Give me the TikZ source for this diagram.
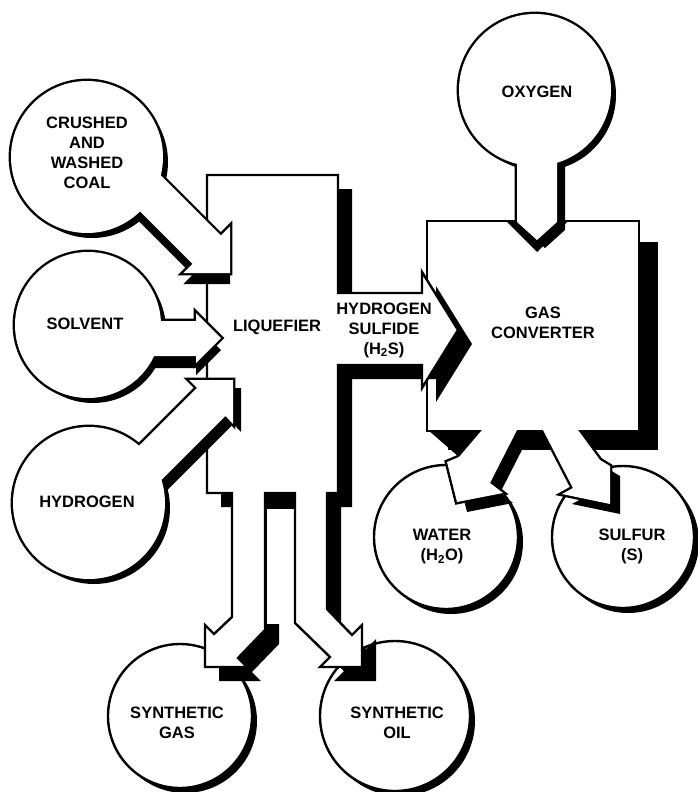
\documentclass[tikz,border=0pt]{standalone}
\usepackage{fontspec}
\setmainfont{Liberation Sans}
\newcommand\pCoal{(110,124.7) -- (220.8,235.5) -- (230,226.3) -- (230,273) -- (183.3,273) -- (192.5,263.8) -- (80,151.3) -- cycle}
\newcommand\pSolv{(100,321) -- (196,321) -- (196,313) -- (221,338) -- (196,363) -- (196,356) -- (100,356) -- cycle}
\newcommand\pHyd{(100,484.7) -- (197,387.8) -- (189.2,380) -- (233,380) -- (233,423.8) -- (225.3,416) -- (120,521.3) -- cycle}
\newcommand\pLiq{(207,175) -- (338,175) -- (338,293) -- (422,293) -- (422,272) -- (458,330) -- (422,388) -- (422,365) -- (338,365) -- (338,493) -- (327,493) -- (327,609) -- (352,635) -- (362,625) -- (362,667) -- (320,667) -- (330,657) -- (295,623) -- (295,493) -- (265,493) -- (265,630) -- (238,658) -- (247,667) -- (205,667) -- (205,625) -- (214,634) -- (232,617) -- (232,493) -- (207,493) -- cycle}
\newcommand\pWater{(482,412) -- (482,430) -- (459,457) -- (447,462) -- (457,502) -- (503,493) -- (490,483) -- (517,430) -- (517,412) -- cycle}
\newcommand\pSulf{(543,412) -- (543,430) -- (573,488) -- (562,494) -- (610,504) -- (610,466) -- (600,460) -- (578,430) -- (578,412) -- cycle}
\newcommand\pStem{(517,125) -- (517,222) -- (537,240) -- (557,222) -- (557,125) -- cycle}
\begin{document}
\begin{tikzpicture}[x=1pt,y=-1pt,
  lbl/.style={font=\bfseries\fontsize{16.5}{20}\selectfont, align=center, inner sep=0pt},
  edge/.style={line width=2.4pt, line join=miter},
  dbl/.style={line width=4.8pt, line join=miter},
  shade/.style={fill=black},
  pane/.style={fill=white}]
\useasboundingbox (0,0) rectangle (698,792);
\fill[white] (0,0) rectangle (698,792);

% output circles
\foreach \cx/\cy/\r in {180/716/72pt, 395/716/75pt, 446/537/72pt, 623/537/71pt} {
  \fill[shade] (\cx+5,\cy+5) circle[radius=\r];
  \filldraw[edge, pane] (\cx,\cy) circle[radius=\r];
}

% gas converter with its two outlets
\fill[shade] (448,242) rectangle (658,450);
\fill[shade] (428,430) -- (482,430) -- (459,457) -- cycle;
\fill[shade, shift={(10,10)}] \pWater;
\fill[shade, shift={(10,10)}] \pSulf;
\draw[dbl] (428,222) rectangle (638,430);
\draw[dbl] \pWater;
\draw[dbl] \pSulf;
\fill[pane] (428,222) rectangle (638,430);
\fill[pane] \pWater;
\fill[pane] \pSulf;

% oxygen
\fill[shade] (540,95) circle[radius=76pt];
\fill[shade, shift={(8,8)}] \pStem;
\fill[shade] (505,220) -- (537,252) -- (569,220) -- cycle;
\draw[dbl] (535,90) circle[radius=76pt];
\draw[dbl] \pStem;
\fill[pane] (535,90) circle[radius=76pt];
\fill[pane] \pStem;

% liquefier with outlets and H2S arrow
\fill[shade, shift={(14,14)}] \pLiq;
\fill[pane] (266.5,508) rectangle (293.5,624);
\fill[shade] (265,493) rectangle (295,509);
\filldraw[edge, pane] \pLiq;

% crushed coal
\fill[shade] (92,162) circle[radius=76pt];
\fill[shade, shift={(0,11)}] \pCoal;
\draw[dbl] (87,157) circle[radius=76pt];
\draw[dbl] \pCoal;
\fill[pane] (87,157) circle[radius=76pt];
\fill[pane] \pCoal;

% solvent
\fill[shade] (93,330) circle[radius=73pt];
\fill[shade, shift={(0,12)}] \pSolv;
\draw[dbl] (88,325) circle[radius=73pt];
\draw[dbl] \pSolv;
\fill[pane] (88,325) circle[radius=73pt];
\fill[pane] \pSolv;

% hydrogen
\fill[shade] (94,508) circle[radius=76pt];
\fill[shade, shift={(8,8)}] \pHyd;
\draw[dbl] (89,503) circle[radius=76pt];
\draw[dbl] \pHyd;
\fill[pane] (89,503) circle[radius=76pt];
\fill[pane] \pHyd;

% labels
\node[lbl] (tcoal) at (87,153) {CRUSHED\\AND\\WASHED\\COAL};
\node[lbl] (tsolv) at (85,324) {SOLVENT};
\node[lbl] (thyd) at (87,502) {HYDROGEN};
\node[lbl] (tliq) at (277,327) {LIQUEFIER};
\node[lbl] (th2s) at (384,330) {HYDROGEN\\SULFIDE\\(H\textsubscript{2}S)};
\node[lbl] (toxy) at (537,92) {OXYGEN};
\node[lbl] (tconv) at (543,323) {GAS\\CONVERTER};
\node[lbl] (twat) at (442,547) {WATER\\(H\textsubscript{2}O)};
\node[lbl] (tsulf) at (632,546) {SULFUR\\(S)};
\node[lbl] (tgas) at (177,723) {SYNTHETIC\\GAS};
\node[lbl] (toil) at (397,723) {SYNTHETIC\\OIL};
\end{tikzpicture}
\end{document}
